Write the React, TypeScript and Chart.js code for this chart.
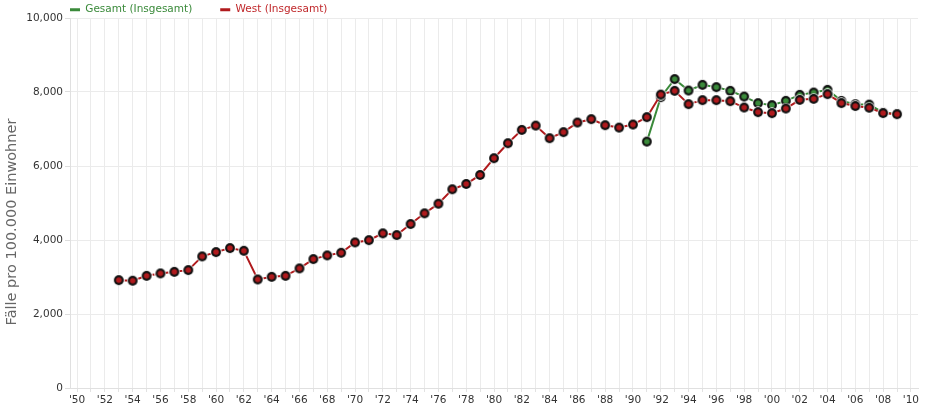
import React, { useEffect, useRef } from 'react';
import { Chart, registerables } from 'chart.js';

Chart.register(...registerables);

// ---- data ----
const westYears = [
  1953, 1954, 1955, 1956, 1957, 1958, 1959, 1960, 1961, 1962,
  1963, 1964, 1965, 1966, 1967, 1968, 1969, 1970, 1971, 1972,
  1973, 1974, 1975, 1976, 1977, 1978, 1979, 1980, 1981, 1982,
  1983, 1984, 1985, 1986, 1987, 1988, 1989, 1990, 1991, 1992,
  1993, 1994, 1995, 1996, 1997, 1998, 1999, 2000, 2001, 2002,
  2003, 2004, 2005, 2006, 2007, 2008, 2009,
];
const westValues = [
  2915, 2900, 3032, 3097, 3140, 3186, 3557, 3673, 3782, 3709,
  2934, 3005, 3032, 3232, 3484, 3584, 3655, 3935, 3995, 4180,
  4133, 4431, 4721, 4981, 5371, 5514, 5758, 6210, 6616, 6976,
  7092, 6751, 6914, 7174, 7266, 7103, 7038, 7120, 7320, 7930,
  8032, 7672, 7780, 7780, 7753, 7580, 7455, 7428, 7553, 7788,
  7815, 7942, 7700, 7620, 7575, 7430, 7400,
];
const gesamtYears = [
  1991, 1992, 1993, 1994, 1995, 1996, 1997, 1998, 1999, 2000,
  2001, 2002, 2003, 2004, 2005, 2006, 2007, 2008, 2009,
];
const gesamtValues = [
  6660, 7860, 8348, 8040, 8194, 8131, 8032, 7877, 7699, 7645,
  7761, 7923, 7986, 8059, 7760, 7670, 7660, 7440, 7410,
];
const xLabelYears = [
  1950, 1952, 1954, 1956, 1958, 1960, 1962, 1964, 1966, 1968,
  1970, 1972, 1974, 1976, 1978, 1980, 1982, 1984, 1986, 1988,
  1990, 1992, 1994, 1996, 1998, 2000, 2002, 2004, 2006, 2008, 2010,
];
const seriesNames = ['Gesamt (Insgesamt)', 'West (Insgesamt)'];
const yTitle = 'Fälle pro 100.000 Einwohner';

const GREEN = '#3a8a3a';
const RED = '#b01a1d';
const GRID = '#ebebeb';

function makeMarker(fill: string): HTMLCanvasElement {
  const c = document.createElement('canvas');
  c.width = 12;
  c.height = 12;
  const ctx = c.getContext('2d')!;
  ctx.fillStyle = '#ffffff';
  ctx.beginPath();
  ctx.arc(6, 6, 5.8, 0, Math.PI * 2);
  ctx.fill();
  ctx.fillStyle = '#111111';
  ctx.beginPath();
  ctx.arc(6, 6, 4.9, 0, Math.PI * 2);
  ctx.fill();
  ctx.fillStyle = fill;
  ctx.beginPath();
  ctx.arc(6, 6, 2.8, 0, Math.PI * 2);
  ctx.fill();
  return c;
}

const layoutTweaks = {
  id: 'layoutTweaks',
  beforeLayout(chart: any) {
    const lg = chart.legend;
    if (lg && !lg.__patched) {
      const orig = lg.fit;
      lg.fit = function () {
        orig.call(this);
        this.height = 18;
      };
      lg.__patched = true;
    }
  },
  afterLayout(chart: any) {
    const lg = chart.legend;
    if (lg) {
      const pad = lg.options.labels.padding;
      lg.left = chart.chartArea.left - pad;
      lg.right = lg.left + 500;
      lg.top = 4.5 - pad;
      lg.bottom = lg.top + 80;
    }
    const ys = chart.scales.y;
    if (ys && !ys.__patched) {
      const origTitle = ys.drawTitle;
      ys.drawTitle = function (...args: any[]) {
        const ctx = this.ctx;
        ctx.save();
        ctx.translate(0, 19);
        origTitle.apply(this, args);
        ctx.restore();
      };
      ys.__patched = true;
    }
  },
};

export default function App() {
  const ref = useRef<HTMLCanvasElement>(null);

  useEffect(() => {
    if (!ref.current) return;
    Chart.defaults.font.family = "'DejaVu Sans', Verdana, sans-serif";
    const greenMarker = makeMarker(GREEN);
    const redMarker = makeMarker(RED);

    const chart = new Chart(ref.current, {
      type: 'line',
      data: {
        datasets: [
          {
            label: seriesNames[0],
            data: gesamtYears.map((yr, i) => ({ x: yr, y: gesamtValues[i] })),
            borderColor: GREEN,
            backgroundColor: GREEN,
            borderWidth: 2,
            pointStyle: greenMarker as any,
            pointRadius: 5,
            tension: 0,
            order: 1,
          },
          {
            label: seriesNames[1],
            data: westYears.map((yr, i) => ({ x: yr, y: westValues[i] })),
            borderColor: RED,
            backgroundColor: RED,
            borderWidth: 2,
            pointStyle: redMarker as any,
            pointRadius: 5,
            tension: 0,
            order: 0,
          },
        ],
      },
      options: {
        animation: false,
        responsive: true,
        maintainAspectRatio: false,
        layout: { padding: { top: 0, right: 5, left: 0, bottom: 0 } },
        plugins: {
          tooltip: { enabled: false },
          legend: {
            position: 'top',
            align: 'start',
            labels: {
              boxWidth: 10,
              boxHeight: 3,
              padding: 28,
              font: { size: 10.5 },
              generateLabels: () => [
                { text: seriesNames[0], fillStyle: GREEN, strokeStyle: GREEN, lineWidth: 0, fontColor: GREEN, hidden: false, datasetIndex: 0 },
                { text: seriesNames[1], fillStyle: RED, strokeStyle: RED, lineWidth: 0, fontColor: '#c0282b', hidden: false, datasetIndex: 1 },
              ] as any,
            },
          },
        },
        scales: {
          x: {
            type: 'linear',
            min: 1949.49,
            max: 2010.51,
            afterFit: (s: any) => { s.height = 21; },
            grid: { color: GRID, drawTicks: true, tickLength: 4, tickColor: '#e2e2e2' },
            border: { color: '#e0e0e0' },
            ticks: {
              stepSize: 1,
              autoSkip: false,
              includeBounds: false,
              maxRotation: 0,
              minRotation: 0,
              padding: 2,
              color: '#333333',
              font: { size: 10.5 },
              callback: (v: any) => {
                const n = Math.round(Number(v));
                if (!xLabelYears.includes(n)) return '';
                return "'" + String(n % 100).padStart(2, '0');
              },
            },
          },
          y: {
            min: 0,
            max: 10000,
            afterFit: (s: any) => { s.width = 70; },
            grid: { color: GRID, drawTicks: true, tickLength: 5, tickColor: '#dddddd' },
            border: { color: '#e0e0e0' },
            title: {
              display: true,
              text: yTitle,
              color: '#666666',
              font: { size: 14.5 },
              padding: { top: 4, bottom: 0 },
            },
            ticks: {
              stepSize: 2000,
              padding: 2,
              color: '#333333',
              font: { size: 10.5 },
              callback: (v: any) => Number(v).toLocaleString('en-US'),
            },
          },
        },
      },
      plugins: [layoutTweaks],
    });
    return () => chart.destroy();
  }, []);

  return (
    <div style={{ position: 'absolute', left: 0, top: 0, width: 925, height: 409 }}>
      <canvas ref={ref} />
    </div>
  );
}
